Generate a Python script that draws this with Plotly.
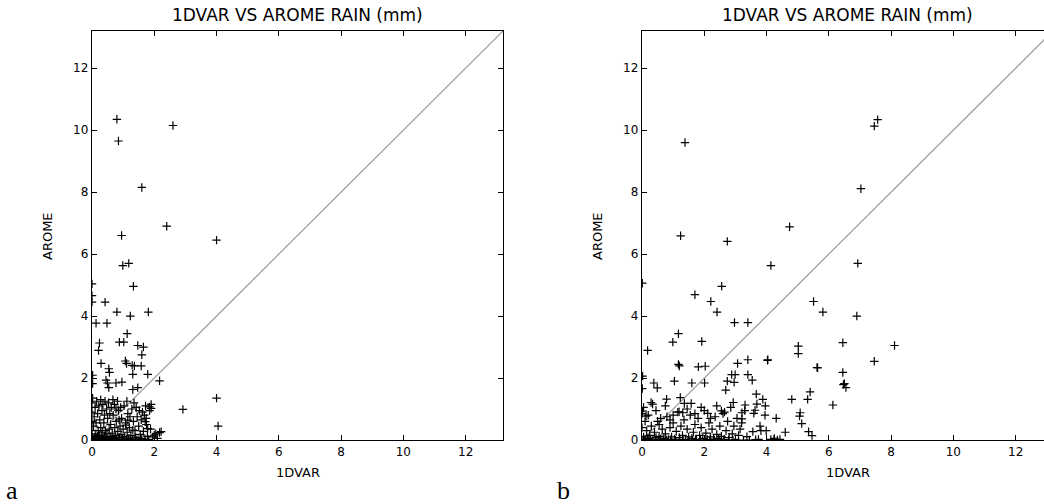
import plotly.graph_objects as go

TITLE = "1DVAR VS AROME RAIN (mm)"
XLABEL = "1DVAR"
YLABEL = "AROME"
PANEL_LABELS = ["a", "b"]
TICKS = [0, 2, 4, 6, 8, 10, 12]

# Panel a: (1DVAR, AROME) pairs
a_sparse = [(0.80, 10.35), (0.85, 9.65), (2.60, 10.15), (1.60, 8.15), (2.40, 6.90), (4.00, 6.45),
            (0.95, 6.60), (0.99, 5.63), (1.18, 5.70), (1.33, 4.96), (0.00, 5.04), (0.00, 4.66),
            (0.00, 4.45), (0.42, 4.45), (0.80, 4.13), (1.81, 4.13), (1.23, 4.00), (0.13, 3.77),
            (0.48, 3.77), (1.13, 3.43), (0.24, 3.13), (0.88, 3.16), (1.02, 3.16), (1.47, 3.05),
            (1.65, 3.00), (0.21, 2.89), (1.60, 2.75), (0.29, 2.47), (1.07, 2.55), (1.11, 2.47),
            (1.29, 2.41), (1.36, 2.39), (1.58, 2.39), (0.54, 2.30), (0.56, 2.18), (1.31, 2.12),
            (1.79, 2.12), (0.02, 2.09), (2.17, 1.91), (0.45, 1.93), (0.50, 1.84), (0.77, 1.84),
            (0.96, 1.87), (0.02, 1.82), (0.54, 1.69), (1.31, 1.63), (1.47, 1.69), (2.92, 0.99),
            (1.84, 1.07), (1.90, 1.02), (4.00, 1.35), (4.05, 0.45)]
a_dense = [(0.00, 0.00), (0.02, 0.05), (0.05, 0.02), (0.08, 0.10), (0.10, 0.03), (0.12, 0.20),
           (0.15, 0.05), (0.18, 0.12), (0.20, 0.30), (0.22, 0.02), (0.25, 0.15), (0.28, 0.40),
           (0.30, 0.08), (0.33, 0.25), (0.35, 0.02), (0.38, 0.55), (0.40, 0.12), (0.43, 0.30),
           (0.45, 0.05), (0.48, 0.20), (0.50, 0.70), (0.52, 0.02), (0.55, 0.35), (0.58, 0.10),
           (0.60, 0.50), (0.63, 0.03), (0.65, 0.22), (0.68, 0.80), (0.70, 0.05), (0.73, 0.40),
           (0.75, 0.15), (0.78, 0.60), (0.80, 0.02), (0.83, 0.28), (0.85, 0.95), (0.88, 0.08),
           (0.90, 0.45), (0.93, 0.18), (0.95, 0.70), (0.98, 0.03), (1.00, 0.35), (1.03, 1.10),
           (1.05, 0.10), (1.08, 0.55), (1.10, 0.02), (1.13, 0.25), (1.15, 0.85), (1.18, 0.05),
           (1.20, 0.40), (1.25, 0.15), (1.28, 1.00), (1.30, 0.02), (1.33, 0.60), (1.38, 0.30),
           (1.40, 0.08), (1.45, 0.75), (1.48, 0.02), (1.50, 0.45), (1.55, 0.18), (1.60, 0.05),
           (1.62, 0.90), (1.65, 0.28), (1.70, 0.03), (1.75, 0.50), (1.78, 0.12), (1.82, 0.02),
           (1.88, 0.35), (1.95, 0.10), (2.05, 0.20), (2.10, 0.05),
           (0.00, 0.30), (0.00, 0.60), (0.00, 0.90), (0.00, 1.20), (0.02, 1.35), (0.05, 0.45),
           (0.07, 0.75), (0.10, 1.05), (0.13, 0.55), (0.15, 1.25), (0.18, 0.85), (0.22, 1.10),
           (0.25, 0.65), (0.28, 1.30), (0.32, 0.95), (0.35, 1.15), (0.40, 0.80), (0.42, 1.25),
           (0.47, 1.00), (0.53, 1.20), (0.57, 0.85), (0.62, 1.05), (0.67, 1.30), (0.72, 1.15),
           (0.77, 1.00), (0.82, 1.25), (0.87, 0.65), (0.92, 1.05), (1.12, 1.25), (1.22, 0.75),
           (1.35, 1.20), (1.42, 1.05), (1.52, 0.95), (1.58, 0.65), (1.68, 0.80), (1.72, 1.10),
           (1.85, 0.95), (1.90, 1.15),
           (0.03, 0.00), (0.08, 0.00), (0.13, 0.00), (0.18, 0.01), (0.23, 0.00), (0.28, 0.01),
           (0.33, 0.00), (0.38, 0.00), (0.43, 0.01), (0.48, 0.00), (0.55, 0.00), (0.60, 0.01),
           (0.66, 0.00), (0.72, 0.00), (0.78, 0.01), (0.86, 0.00), (0.95, 0.00), (1.02, 0.01),
           (1.12, 0.00), (1.22, 0.00), (1.35, 0.01), (1.42, 0.00), (1.55, 0.00), (1.58, 0.01),
           (2.17, 0.24), (2.22, 0.27), (2.00, 0.16), (1.74, 0.70), (1.71, 0.59), (1.15, 0.64),
           (1.09, 0.48), (1.31, 0.32), (1.79, 0.37)]

# Panel b: (1DVAR, AROME) pairs
b_sparse = [(7.57, 10.34), (7.46, 10.13), (1.38, 9.60), (7.03, 8.11), (4.74, 6.88), (1.24, 6.59),
            (2.74, 6.41), (6.93, 5.70), (4.14, 5.63), (0.01, 5.06), (2.56, 4.96), (1.70, 4.69),
            (2.21, 4.47), (5.51, 4.47), (2.41, 4.13), (5.81, 4.13), (6.90, 4.00), (2.97, 3.79),
            (3.40, 3.79), (1.17, 3.43), (0.99, 3.16), (1.92, 3.18), (6.45, 3.14), (8.11, 3.05),
            (0.18, 2.89), (5.02, 3.03), (5.02, 2.79), (4.04, 2.59), (3.40, 2.59), (7.46, 2.54),
            (3.07, 2.47), (1.17, 2.44), (1.20, 2.39), (1.81, 2.36), (2.03, 2.38), (5.62, 2.34),
            (6.45, 2.18), (2.88, 2.11), (2.99, 2.11), (3.40, 2.11), (0.02, 2.06), (3.54, 1.93),
            (2.74, 1.90), (2.96, 1.86), (1.04, 1.90), (1.60, 1.84), (2.01, 1.84), (0.38, 1.84),
            (6.47, 1.79), (6.55, 1.69), (0.49, 1.68), (0.01, 1.66), (2.69, 1.61), (5.40, 1.55),
            (3.67, 1.48), (6.13, 1.13)]
b_dense = [(0.00, 0.00), (0.05, 0.10), (0.10, 0.02), (0.15, 0.30), (0.20, 0.05), (0.25, 0.15),
           (0.30, 0.45), (0.35, 0.02), (0.40, 0.25), (0.45, 0.08), (0.50, 0.60), (0.55, 0.12),
           (0.60, 0.03), (0.65, 0.35), (0.70, 0.05), (0.75, 0.20), (0.80, 0.75), (0.85, 0.02),
           (0.90, 0.40), (0.95, 0.10), (1.00, 0.55), (1.05, 0.03), (1.10, 0.28), (1.15, 0.90),
           (1.20, 0.08), (1.25, 0.45), (1.30, 0.15), (1.35, 0.65), (1.40, 0.02), (1.45, 0.35),
           (1.50, 0.10), (1.55, 0.80), (1.60, 0.05), (1.65, 0.25), (1.70, 0.50), (1.75, 0.02),
           (1.80, 0.70), (1.85, 0.15), (1.90, 0.40), (1.95, 0.05), (2.00, 0.95), (2.05, 0.22),
           (2.10, 0.02), (2.15, 0.55), (2.20, 0.10), (2.25, 0.35), (2.30, 0.03), (2.35, 0.75),
           (2.40, 0.18), (2.45, 0.05), (2.50, 0.45), (2.55, 0.12), (2.60, 0.85), (2.65, 0.02),
           (2.70, 0.30), (2.75, 0.60), (2.80, 0.08), (2.85, 1.05), (2.90, 0.20), (2.95, 0.45),
           (3.00, 0.02), (3.05, 0.70), (3.10, 0.15), (3.15, 0.35),
           (0.00, 0.40), (0.00, 0.85), (0.02, 0.93), (0.13, 0.77), (0.29, 1.21), (0.34, 1.16),
           (0.05, 1.05), (0.10, 0.60), (0.20, 0.80), (0.45, 0.95), (0.60, 0.70), (0.75, 1.10),
           (0.79, 1.32), (1.23, 1.37), (1.36, 1.18), (1.58, 1.18), (2.93, 1.21), (2.55, 0.94),
           (1.19, 0.91), (1.31, 0.88), (2.11, 0.86), (1.45, 1.00), (1.70, 0.85), (1.90, 1.05),
           (2.40, 1.10), (2.65, 0.90), (2.20, 0.70), (3.20, 0.55), (3.30, 0.95), (1.00, 0.80),
           (0.55, 0.50), (0.90, 0.65),
           (0.08, 0.00), (0.18, 0.01), (0.28, 0.00), (0.42, 0.00), (0.52, 0.01), (0.68, 0.00),
           (0.78, 0.00), (0.92, 0.01), (1.08, 0.00), (1.22, 0.00), (1.32, 0.01), (1.48, 0.00),
           (1.62, 0.00), (1.72, 0.01), (1.88, 0.00), (2.02, 0.00), (2.18, 0.01), (2.32, 0.00),
           (2.48, 0.00), (2.62, 0.01), (2.78, 0.00), (2.92, 0.00), (3.45, 0.00), (3.65, 0.01),
           (4.25, 0.05), (4.35, 0.00),
           (4.03, 2.57), (5.64, 2.33), (6.50, 1.82), (4.81, 1.31), (5.32, 1.31), (3.88, 1.31),
           (3.31, 1.13), (3.69, 1.16), (3.96, 1.10), (3.63, 0.96), (3.21, 0.88), (3.59, 0.86),
           (5.08, 0.88), (5.06, 0.77), (3.95, 0.80), (4.31, 0.70), (3.21, 0.68), (5.13, 0.53),
           (3.79, 0.45), (4.60, 0.25), (5.35, 0.27), (5.46, 0.14), (3.56, 0.27), (3.82, 0.30),
           (3.99, 0.30), (3.37, 0.11), (3.74, 0.02), (4.14, 0.02), (4.24, 0.02), (4.43, 0.02),
           (3.26, 0.00)]

DIAG = [0, 13.2]

W, H = 1044, 504
FONT = "DejaVu Sans"

a_pts = a_sparse + a_dense
b_pts = b_sparse + b_dense

fig = go.Figure()
marker = dict(symbol="cross-thin", size=6, line=dict(color="black", width=1.2), color="black")

for pts, xa, ya in [(a_pts, "x", "y"), (b_pts, "x2", "y2")]:
    fig.add_trace(go.Scatter(x=DIAG, y=DIAG, mode="lines", line=dict(color="#999999", width=1.2),
                             xaxis=xa, yaxis=ya, showlegend=False, hoverinfo="skip"))
    fig.add_trace(go.Scatter(x=[p[0] for p in pts], y=[p[1] for p in pts], mode="markers",
                             marker=marker, xaxis=xa, yaxis=ya, showlegend=False, cliponaxis=True))

# pixel geometry
ax_l, ax_r = 92, 503
bx_l = 642
y_top, y_bot = 31, 440
unit = (ax_r - ax_l) / 13.2
b_range = (W - bx_l) / unit

ydom = [(H - y_bot) / H, (H - y_top) / H]

common = dict(ticks="inside", ticklen=5, tickwidth=1, tickcolor="black", showline=True,
              linecolor="black", linewidth=1.3, showgrid=False, zeroline=False, automargin=False,
              tickvals=TICKS, tickfont=dict(family=FONT, size=12, color="black"))

fig.update_layout(
    width=W, height=H, margin=dict(l=0, r=0, t=0, b=0, autoexpand=False),
    paper_bgcolor="white", plot_bgcolor="white",
    xaxis=dict(domain=[ax_l / W, ax_r / W], range=[0, 13.2], mirror="allticks", anchor="y", **common),
    yaxis=dict(domain=ydom, range=[0, 13.2], mirror="allticks", anchor="x", **common),
    xaxis2=dict(domain=[bx_l / W, 1.0], range=[0, b_range], mirror="allticks", anchor="y2", **common),
    yaxis2=dict(domain=ydom, range=[0, 13.2], mirror=False, anchor="x2", **common),
)

ann = []
for cx, lab in [((ax_l + ax_r) / 2, PANEL_LABELS[0]), ((bx_l + bx_l + 13.2 * unit) / 2, PANEL_LABELS[1])]:
    ann.append(dict(x=cx / W, y=1 - 15 / H, xref="paper", yref="paper", text=TITLE, showarrow=False,
                    font=dict(family=FONT, size=17, color="black"), xanchor="center", yanchor="middle"))
    ann.append(dict(x=cx / W, y=1 - 472 / H, xref="paper", yref="paper", text=XLABEL, showarrow=False,
                    font=dict(family=FONT, size=13, color="black"), xanchor="center", yanchor="middle"))
ann.append(dict(x=47 / W, y=(H - 236) / H, xref="paper", yref="paper", text=YLABEL, showarrow=False,
                textangle=-90, font=dict(family=FONT, size=13, color="black"), xanchor="center", yanchor="middle"))
ann.append(dict(x=597 / W, y=(H - 236) / H, xref="paper", yref="paper", text=YLABEL, showarrow=False,
                textangle=-90, font=dict(family=FONT, size=13, color="black"), xanchor="center", yanchor="middle"))
ann.append(dict(x=12 / W, y=1 - 490 / H, xref="paper", yref="paper", text=PANEL_LABELS[0], showarrow=False,
                font=dict(family="Liberation Serif", size=26, color="black"), xanchor="center", yanchor="middle"))
ann.append(dict(x=563 / W, y=1 - 490 / H, xref="paper", yref="paper", text=PANEL_LABELS[1], showarrow=False,
                font=dict(family="Liberation Serif", size=26, color="black"), xanchor="center", yanchor="middle"))
fig.update_layout(annotations=ann)

fig.write_html("out.html", config={"displayModeBar": False, "staticPlot": True},
               post_script="document.body.style.margin='0px';document.body.style.overflow='hidden';")
